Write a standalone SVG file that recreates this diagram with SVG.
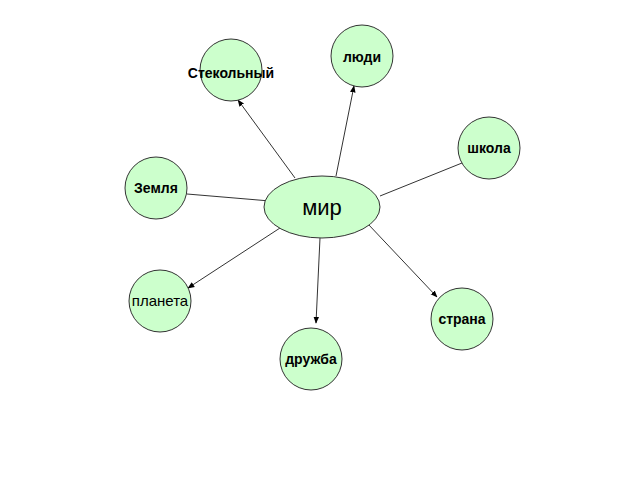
<svg xmlns="http://www.w3.org/2000/svg" width="640" height="480" viewBox="0 0 640 480">
<style>
.n{fill:#ccffcc;stroke:#333;stroke-width:1}
.t{font-family:"Liberation Sans",Arial,sans-serif;font-weight:bold;font-size:14px;text-anchor:middle;fill:#000}
.c line{stroke:#333;stroke-width:1}
</style>
<defs><marker id="a" viewBox="0 0 10 10" refX="9" refY="5" markerWidth="7" markerHeight="7" orient="auto"><path d="M0,1L10,5L0,9z" fill="#000"/></marker></defs>
<rect width="640" height="480" fill="#fff"/>
<g class="c">
<line x1="295" y1="178" x2="238" y2="100" marker-end="url(#a)"/>
<line x1="336" y1="176" x2="354" y2="86" marker-end="url(#a)"/>
<line x1="380" y1="196" x2="462" y2="163"/>
<line x1="187" y1="194" x2="270" y2="201"/>
<line x1="280" y1="228" x2="188" y2="288" marker-end="url(#a)"/>
<line x1="320" y1="238" x2="316" y2="323" marker-end="url(#a)"/>
<line x1="368" y1="224" x2="437" y2="297" marker-end="url(#a)"/>
</g>
<g id="steklo"><circle class="n" cx="231" cy="70" r="31"/><text class="t" x="231" y="78">Стекольный</text></g>
<g id="lyudi"><circle class="n" cx="362" cy="56" r="31"/><text class="t" x="362" y="62">люди</text></g>
<g id="shkola"><circle class="n" cx="489" cy="148" r="31"/><text class="t" x="489" y="153">школа</text></g>
<g id="zemlya"><circle class="n" cx="156" cy="188" r="31"/><text class="t" x="156" y="193">Земля</text></g>
<g id="mir"><ellipse class="n" cx="322" cy="207" rx="58" ry="31"/><text class="t" x="322" y="215" style="font-size:22px;font-weight:normal">мир</text></g>
<g id="planeta"><circle class="n" cx="160" cy="301" r="31"/><text class="t" x="160" y="306" style="font-weight:normal;font-size:15px">планета</text></g>
<g id="strana"><circle class="n" cx="462" cy="319" r="31"/><text class="t" x="462" y="324">страна</text></g>
<g id="druzhba"><circle class="n" cx="311" cy="359" r="31"/><text class="t" x="311" y="364">дружба</text></g>
</svg>
